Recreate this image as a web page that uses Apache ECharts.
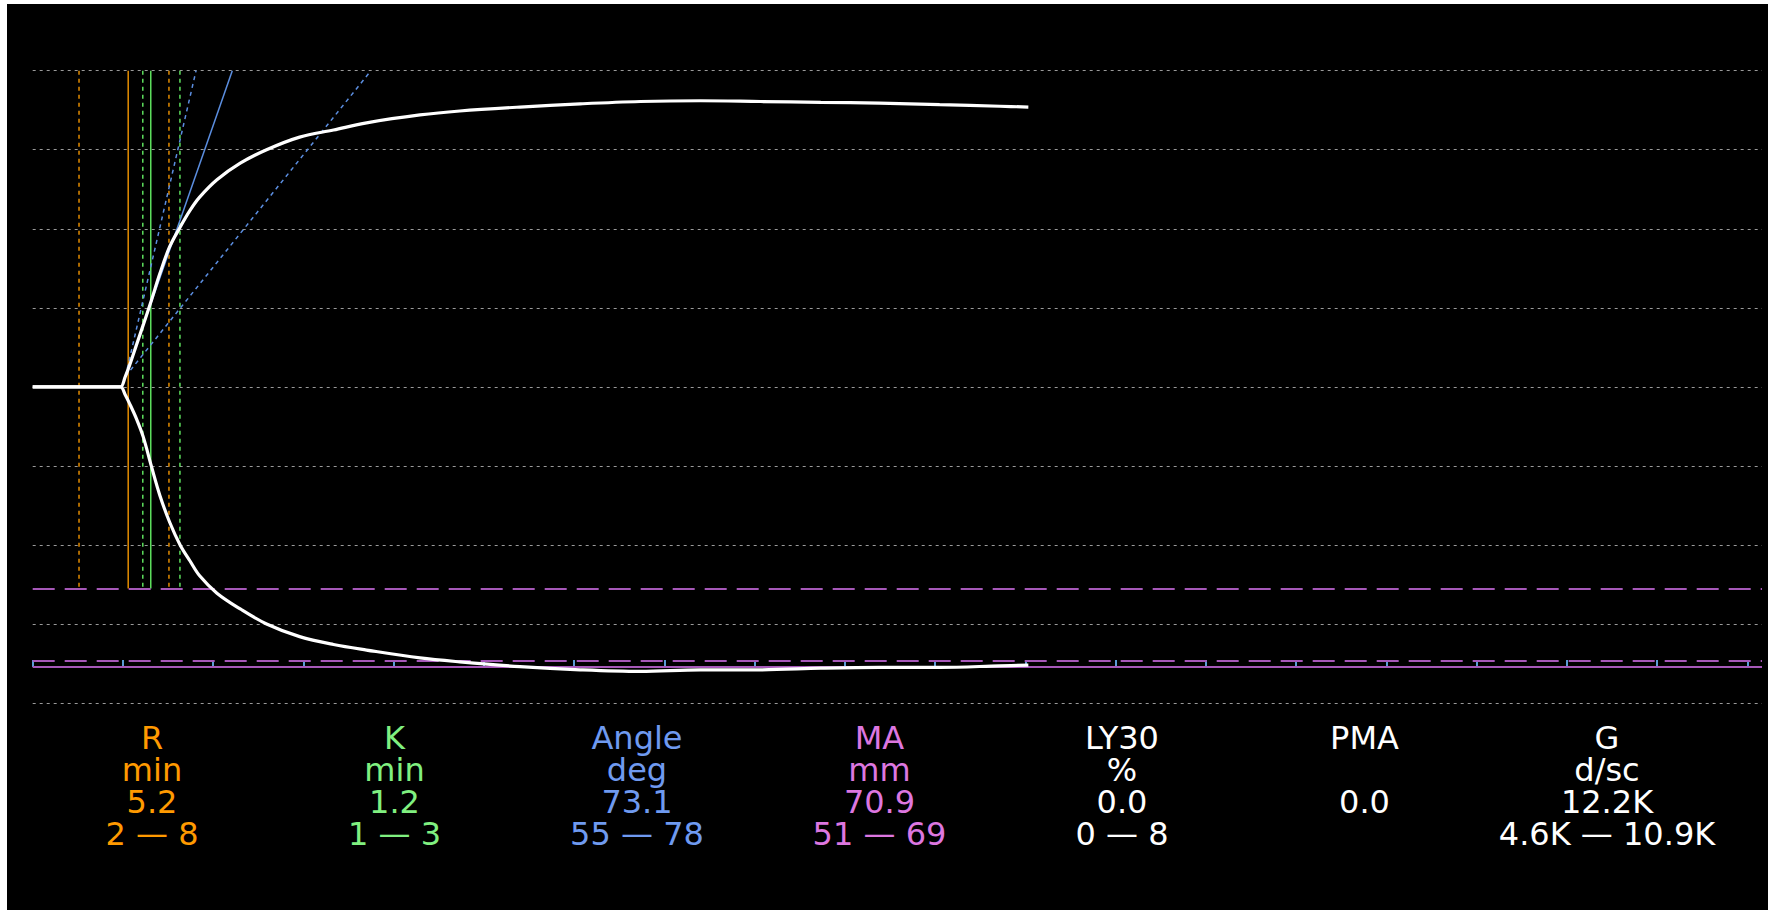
<!DOCTYPE html>
<html>
<head>
<meta charset="utf-8">
<script src="https://cdn.jsdelivr.net/npm/echarts@6/dist/echarts.min.js"></script>
<style>
  html, body { margin: 0; padding: 0; background: #fff; }
  #chart { position: absolute; left: 7px; top: 4px; width: 1761px; height: 906px; background: #000; }
</style>
</head>
<body>
<div id="chart"></div>
<script>
// trace: time in minutes from the left edge, amplitude in mm
const timeMin = [0, 5.5, 5.85, 6.15, 6.45, 6.9, 7.35, 7.9, 8.45, 9.1, 9.8, 10.45, 11.1, 12.25, 13.8, 15.55,
  17.75, 20, 22.2, 25.75, 28.4, 32.4, 36.4, 40.4, 44.4, 48.4, 52.4, 56.3, 60.3, 64.3, 66.2]
const upperMm = [0, 0, 0, 1.27, 2.78, 5.31, 7.84, 11.0, 14.3, 17.7, 20.2, 22.3, 24.0, 26.2, 28.3, 30.0,
  31.6, 32.5, 33.4, 34.4, 34.9, 35.4, 35.8, 36.1, 36.2, 36.1, 36.0, 35.9, 35.7, 35.5, 35.4]
const lowerMm = [0, 0, 0, -1.0, -2.15, -4.05, -6.33, -10.1, -13.7, -17.1, -20.0, -22.0, -23.9, -26.1, -28.1, -30.0,
  -31.6, -32.6, -33.3, -34.3, -34.8, -35.4, -35.8, -36.0, -35.8, -35.8, -35.6, -35.5, -35.5, -35.3, -35.2]

// x ticks (every 6 min)
const tickValues = [0, 6, 12, 18, 24, 30, 36, 42, 48, 54, 60, 66, 72, 78, 84, 90, 96, 102, 108, 114]

// R / K markers (min on the trace axis)
const rLine = 6.35
const rRange = [3.08, 9.06]
const kLine = 7.85
const kRange = [7.32, 9.79]
const markerTop = 40
const markerBottom = -25.5

// angle tangent lines: common origin, x where each reaches the top
const angleOrigin = [6.17, 1.33]
const angleTopX = 13.27
const angleRangeTopX = [22.49, 10.86]

// MA reference (half widths, mm)
const maRangeLines = [-25.5, -34.7]
const maLine = -35.45

// parameter table
const paramNames = ['R', 'K', 'Angle', 'MA', 'LY30', 'PMA', 'G']
const paramUnits = ['min', 'min', 'deg', 'mm', '%', '', 'd/sc']
const paramValues = ['5.2', '1.2', '73.1', '70.9', '0.0', '0.0', '12.2K']
const paramRanges = ['2 — 8', '1 — 3', '55 — 78', '51 — 69', '0 — 8', '', '4.6K — 10.9K']
const paramColors = ['#ff9a00', '#80f080', '#6f9af0', '#dd77e0', '#ffffff', '#ffffff', '#ffffff']

const ORANGE = '#e38c00'
const GREEN = '#5ee05e'
const BLUE = '#5b8ee0'
const PURPLE = '#a658b8'

const vline = (x, color, dashed) => ({
  type: 'line',
  data: [[x, markerTop], [x, markerBottom]],
  showSymbol: false,
  silent: true,
  z: 3,
  lineStyle: { color, width: 1.5, type: dashed ? [4, 4] : 'solid' },
})

const tangent = (topX, dashed) => ({
  type: 'line',
  data: [angleOrigin, [topX, markerTop]],
  showSymbol: false,
  silent: true,
  z: 4,
  lineStyle: { color: BLUE, width: 1.5, type: dashed ? [4, 4] : 'solid' },
})

const curve = (vals) => ({
  type: 'line',
  data: timeMin.map((t, i) => [t, vals[i]]),
  showSymbol: false,
  smooth: 0.35,
  silent: true,
  z: 10,
  lineStyle: { color: '#ffffff', width: 3.2 },
})

const chart = echarts.init(document.getElementById('chart'), null, { renderer: 'svg' })

chart.setOption({
  animation: false,
  backgroundColor: '#000',
  grid: { left: 25.7, top: 66.7, width: 1729.3, height: 632.3 },
  xAxis: {
    type: 'value',
    min: 0,
    max: 114.98,
    offset: -36,
    axisLine: { show: false, onZero: false },
    axisTick: {
      show: true,
      inside: true,
      length: 7,
      customValues: tickValues,
      lineStyle: { color: '#5a9bd5', width: 2 },
    },
    axisLabel: { show: false },
    splitLine: { show: false },
  },
  yAxis: {
    type: 'value',
    min: -40,
    max: 40,
    interval: 10,
    axisLine: { show: false },
    axisTick: { show: false },
    axisLabel: { show: false },
    splitLine: { lineStyle: { color: '#9a9a9a', type: [3, 4], width: 1 } },
  },
  series: [
    {
      type: 'line',
      data: [],
      silent: true,
      markLine: {
        symbol: 'none',
        silent: true,
        label: { show: false },
        data: [
          { yAxis: maRangeLines[0], lineStyle: { color: PURPLE, width: 2, type: [22, 10] } },
          { yAxis: maRangeLines[1], lineStyle: { color: PURPLE, width: 2, type: [22, 10] } },
          { yAxis: maLine, lineStyle: { color: PURPLE, width: 2, type: 'solid' } },
        ],
      },
    },
    vline(rRange[0], ORANGE, true),
    vline(rRange[1], ORANGE, true),
    vline(rLine, ORANGE, false),
    vline(kRange[0], GREEN, true),
    vline(kRange[1], GREEN, true),
    vline(kLine, GREEN, false),
    tangent(angleRangeTopX[0], true),
    tangent(angleRangeTopX[1], true),
    tangent(angleTopX, false),
    curve(upperMm),
    curve(lowerMm),
  ],
  graphic: paramNames.map((name, i) => ({
    type: 'text',
    x: 145 + 242.5 * i,
    y: 782.4,
    silent: true,
    style: {
      text: [name, paramUnits[i], paramValues[i], paramRanges[i]].join('\n'),
      fill: paramColors[i],
      font: '32px "DejaVu Sans", Verdana, sans-serif',
      lineHeight: 32,
      align: 'center',
      verticalAlign: 'middle',
    },
  })),
})
</script>
</body>
</html>
